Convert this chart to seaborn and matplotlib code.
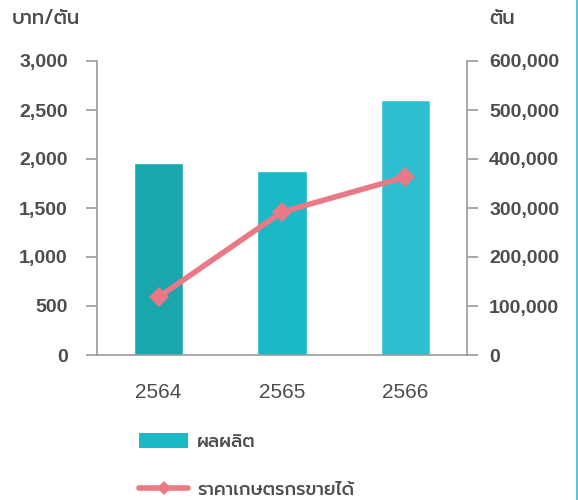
import matplotlib
matplotlib.use("Agg")
import matplotlib.pyplot as plt
import matplotlib.ticker as tck
from matplotlib.patches import Patch
from matplotlib.lines import Line2D
import pandas as pd
import seaborn as sns

NUM_FONT = ["Liberation Sans", "DejaVu Sans"]
THAI_FONT = ["Prompt", "DejaVu Sans"]
TEXT_COLOR = "#4d4d4d"
AXIS_COLOR = "#9a9a9a"
PINK = "#ea7987"

years = ["2564", "2565", "2566"]
production_tons = [392000, 375500, 520500]   # ผลผลิต (right axis, ตัน)
farm_price = [592, 1459, 1816]               # ราคาเกษตรกรขายได้ (left axis, บาท/ตัน)
bar_colors = ["#1aa6ad", "#1bb8c6", "#2dbfd0"]

df = pd.DataFrame({"year": years, "tons": production_tons, "price": farm_price})

sns.set_style("white")
fig = plt.figure(figsize=(5.78, 5.0), dpi=100)
ax = fig.add_axes([97 / 578, 1 - 355 / 500, 370 / 578, 294 / 500])

#bars go on the tonnage axis (shown on the right)
sns.barplot(data=df, x="year", y="tons", hue="year", palette=bar_colors,
            width=0.4, legend=False, ax=ax, saturation=1)
ax.set_ylim(0, 600000)
ax.set_xlim(-0.5, 2.5)

#line on a twin axis whose ticks go on the left, drawn above the bars
ax2 = ax.twinx()
sns.lineplot(data=df, x="year", y="price", color=PINK, linewidth=4,
             marker="D", markersize=10, markeredgewidth=0, ax=ax2)
ax2.set_ylim(0, 3000)

#twinx moves ticks around, so set the sides afterwards
ax.yaxis.tick_right()
ax2.yaxis.tick_left()
ax.yaxis.set_major_locator(tck.MultipleLocator(100000))
ax2.yaxis.set_major_locator(tck.MultipleLocator(500))
for a, pad in ((ax, 8), (ax2, 13)):
    a.yaxis.set_major_formatter(tck.FuncFormatter(lambda v, p: f"{v:,.0f}"))
    a.set_xlabel("")
    a.set_ylabel("")
    for s in a.spines.values():
        s.set_visible(False)
    a.tick_params(axis="y", direction="out", length=8, width=1.2, color=AXIS_COLOR,
                  pad=pad, labelsize=14, labelcolor=TEXT_COLOR)
    for lbl in a.get_yticklabels():
        lbl.set_family(NUM_FONT)
        lbl.set_fontweight("bold")

ax.spines["right"].set_visible(True)
ax.spines["bottom"].set_visible(True)
ax2.spines["left"].set_visible(True)
for s in (ax.spines["right"], ax.spines["bottom"], ax2.spines["left"]):
    s.set_color(AXIS_COLOR)
    s.set_linewidth(1.2)

#x ticks: boundaries as major ticks, year labels as minor ticks
ax.xaxis.set_major_locator(tck.FixedLocator([-0.5, 0.5, 1.5, 2.5]))
ax.xaxis.set_major_formatter(tck.NullFormatter())
ax.xaxis.set_minor_locator(tck.FixedLocator([0, 1, 2]))
ax.xaxis.set_minor_formatter(tck.FixedFormatter(years))
ax.tick_params(axis="x", which="major", length=8, width=1.2, color=AXIS_COLOR, bottom=True)
ax.tick_params(axis="x", which="minor", length=0, pad=20, labelsize=15, labelcolor=TEXT_COLOR)
for lbl in ax.get_xticklabels(minor=True):
    lbl.set_family(NUM_FONT)
ax2.set_xticks([])

#axis unit titles
fig.text(12 / 578, 1 - 18 / 500, "บาท/ตัน", family=THAI_FONT, fontsize=14,
         fontweight="medium", color=TEXT_COLOR, va="center", ha="left")
fig.text(489 / 578, 1 - 18 / 500, "ตัน", family=THAI_FONT, fontsize=14,
         fontweight="medium", color=TEXT_COLOR, va="center", ha="left")

#legend below the chart
handles = [
    Patch(facecolor=bar_colors[1], edgecolor="none"),
    Line2D([], [], color=PINK, linewidth=4, marker="D", markersize=7, markeredgewidth=0),
]
leg = fig.legend(handles, ["ผลผลิต", "ราคาเกษตรกรขายได้"], loc="upper left",
                 bbox_to_anchor=(123 / 578, 1 - 417 / 500), frameon=False,
                 prop={"family": THAI_FONT, "size": 13, "weight": "medium"},
                 handlelength=2.7, handleheight=0.85, handletextpad=0.5,
                 labelspacing=1.7)
for t in leg.get_texts():
    t.set_color(TEXT_COLOR)

#page frame line at the right edge
fig.add_artist(Line2D([576.5 / 578, 576.5 / 578], [0, 1], color="#5cc6d3", linewidth=1.5))

fig.savefig("out.png", dpi=100)
